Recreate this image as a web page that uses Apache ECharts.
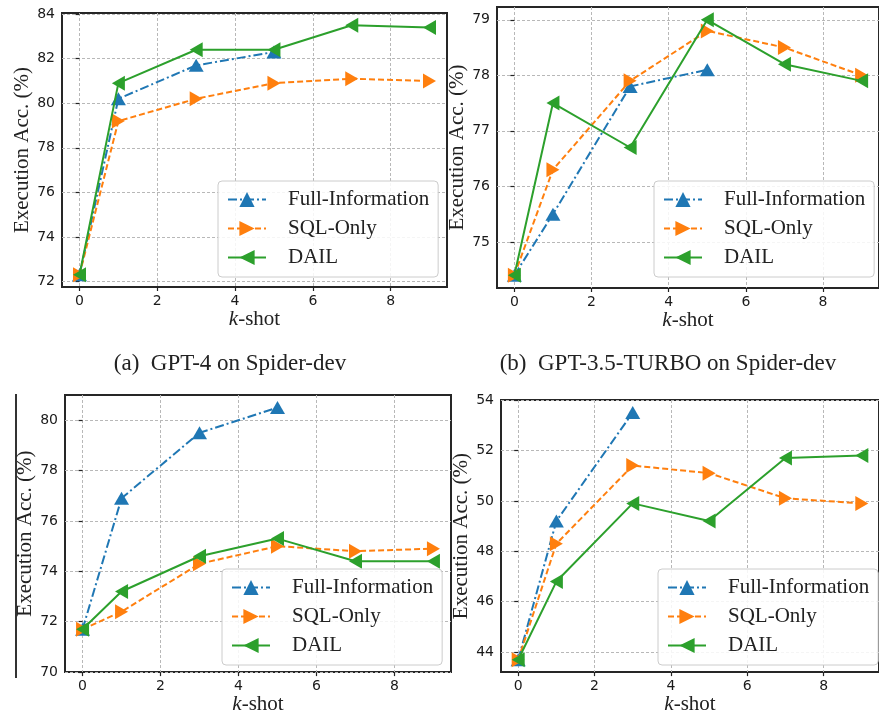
<!DOCTYPE html>
<html>
<head>
<meta charset="utf-8">
<script src="https://cdn.jsdelivr.net/npm/echarts@6/dist/echarts.min.js"></script>
<style>
html,body{margin:0;padding:0;background:#fff;}
#chart{width:879px;height:716px;}
</style>
</head>
<body>
<div id="chart"></div>
<script>
// ---------- data ----------
var kShots = [0, 1, 3, 5, 7, 9];
var seriesNames = ['Full-Information', 'SQL-Only', 'DAIL'];
var xTicks = [0, 2, 4, 6, 8];

// (a) GPT-4 on Spider-dev
var aFull = [72.3, 80.2, 81.7, 82.3];
var aSql  = [72.3, 79.2, 80.2, 80.9, 81.1, 81.0];
var aDail = [72.3, 80.9, 82.4, 82.4, 83.5, 83.4];
var aYTicks = [72, 74, 76, 78, 80, 82, 84];

// (b) GPT-3.5-TURBO on Spider-dev
var bFull = [74.4, 75.5, 77.8, 78.1];
var bSql  = [74.4, 76.3, 77.9, 78.8, 78.5, 78.0];
var bDail = [74.4, 77.5, 76.7, 79.0, 78.2, 77.9];
var bYTicks = [75, 76, 77, 78, 79];

// (c)
var cFull = [71.7, 76.9, 79.5, 80.5];
var cSql  = [71.7, 72.4, 74.3, 75.0, 74.8, 74.9];
var cDail = [71.7, 73.2, 74.6, 75.3, 74.4, 74.4];
var cYTicks = [70, 72, 74, 76, 78, 80];

// (d)
var dFull = [43.7, 49.2, 53.5];
var dSql  = [43.7, 48.3, 51.4, 51.1, 50.1, 49.9];
var dDail = [43.7, 46.8, 49.9, 49.2, 51.7, 51.8];
var dYTicks = [44, 46, 48, 50, 52, 54];

var captions = ['(a)  GPT-4 on Spider-dev', '(b)  GPT-3.5-TURBO on Spider-dev'];
var yName = 'Execution Acc. (%)';

// ---------- layout / style ----------
var panels = [
  {full: aFull, sql: aSql, dail: aDail, yt: aYTicks, ymin: 71.75, ymax: 84.05,
   grid: {left: 62, top: 13, width: 385, height: 274}, legend: {left: 218, top: 181}, nameGap: 26},
  {full: bFull, sql: bSql, dail: bDail, yt: bYTicks, ymin: 74.17, ymax: 79.23,
   grid: {left: 497, top: 7, width: 385, height: 281}, legend: {left: 654, top: 181}, nameGap: 26},
  {full: cFull, sql: cSql, dail: cDail, yt: cYTicks, ymin: 70, ymax: 81,
   grid: {left: 65, top: 395, width: 386, height: 281}, legend: {left: 222, top: 569}, nameGap: 27},
  {full: dFull, sql: dSql, dail: dDail, yt: dYTicks, ymin: 43.21, ymax: 54.0,
   grid: {left: 501, top: 400, width: 385, height: 276}, legend: {left: 658, top: 569}, nameGap: 28}
];

var BLUE = '#1f77b4', ORANGE = '#ff7f0e', GREEN = '#2ca02c';
var serif = 'Liberation Serif, Times New Roman, serif';
var sans = 'DejaVu Sans, sans-serif';
var RIGHT_TRI = 'path://M0,0L10,5L0,10Z';
var LEFT_TRI = 'path://M10,0L0,5L10,10Z';

function pairs(vals) {
  return vals.map(function (v, i) { return [kShots[i], v]; });
}

var grids = [], xAxes = [], yAxes = [], series = [], legends = [];
panels.forEach(function (p, i) {
  grids.push({left: p.grid.left, top: p.grid.top, width: p.grid.width, height: p.grid.height,
    show: true, borderColor: '#262626', borderWidth: 2, backgroundColor: 'transparent', containLabel: false});
  xAxes.push({
    type: 'value', gridIndex: i, min: -0.45, max: 9.45,
    name: '{k|k}-shot', nameLocation: 'middle', nameGap: 21,
    nameTextStyle: {fontFamily: serif, fontSize: 21, color: '#222',
      rich: {k: {fontFamily: serif, fontSize: 21, fontStyle: 'italic', color: '#222'}}},
    axisLine: {show: false},
    axisTick: {show: true, inside: false, length: 4, customValues: xTicks, lineStyle: {color: '#222', width: 1.2}},
    axisLabel: {customValues: xTicks, margin: 7, fontFamily: sans, fontSize: 14, color: '#1a1a1a'},
    splitLine: {show: true, lineStyle: {color: '#b8b8b8', width: 1, type: [3, 2]}}
  });
  yAxes.push({
    type: 'value', gridIndex: i, min: p.ymin, max: p.ymax,
    name: yName, nameLocation: 'middle', nameGap: p.nameGap, nameRotate: 90,
    nameTextStyle: {fontFamily: serif, fontSize: 21, color: '#222'},
    axisLine: {show: false},
    axisTick: {show: true, inside: false, length: 4, customValues: p.yt, lineStyle: {color: '#222', width: 1.2}},
    axisLabel: {customValues: p.yt, margin: 7, fontFamily: sans, fontSize: 14, color: '#1a1a1a'},
    splitLine: {show: true, lineStyle: {color: '#b8b8b8', width: 1, type: [3, 2]}}
  });
  series.push({
    name: seriesNames[0], type: 'line', xAxisIndex: i, yAxisIndex: i, data: pairs(p.full),
    symbol: 'triangle', symbolSize: [15, 13], color: BLUE,
    lineStyle: {color: BLUE, width: 2, type: [9, 3, 2, 3]}, itemStyle: {color: BLUE}, z: 2
  });
  series.push({
    name: seriesNames[1], type: 'line', xAxisIndex: i, yAxisIndex: i, data: pairs(p.sql),
    symbol: RIGHT_TRI, symbolSize: [13, 15], color: ORANGE,
    lineStyle: {color: ORANGE, width: 2, type: [6, 3]}, itemStyle: {color: ORANGE}, z: 3
  });
  series.push({
    name: seriesNames[2], type: 'line', xAxisIndex: i, yAxisIndex: i, data: pairs(p.dail),
    symbol: LEFT_TRI, symbolSize: [13, 15], color: GREEN,
    lineStyle: {color: GREEN, width: 2, type: 'solid'}, itemStyle: {color: GREEN}, z: 4
  });
  legends.push({
    orient: 'vertical', left: p.legend.left, top: p.legend.top,
    padding: [8, 9, 9, 9], itemWidth: 38, itemHeight: 19, itemGap: 8,
    backgroundColor: 'rgba(255,255,255,0.85)', borderColor: '#cccccc', borderWidth: 1, borderRadius: 4,
    textStyle: {fontFamily: serif, fontSize: 21, color: '#222', padding: [0, 0, 0, 17]},
    data: seriesNames, selectedMode: false, z: 10
  });
});

var option = {
  animation: false,
  backgroundColor: '#ffffff',
  grid: grids,
  xAxis: xAxes,
  yAxis: yAxes,
  legend: legends,
  series: series,
  graphic: [
    {type: 'text', x: 230, y: 364, style: {text: captions[0], font: '23px ' + serif, fill: '#222', textAlign: 'center', textVerticalAlign: 'middle'}},
    {type: 'text', x: 668, y: 364, style: {text: captions[1], font: '23px ' + serif, fill: '#222', textAlign: 'center', textVerticalAlign: 'middle'}},
    {type: 'line', shape: {x1: 16, y1: 394, x2: 16, y2: 678}, style: {stroke: '#333', lineWidth: 2}}
  ]
};

var chart = echarts.init(document.getElementById('chart'), null, {renderer: 'canvas'});
chart.setOption(option);
</script>
</body>
</html>
